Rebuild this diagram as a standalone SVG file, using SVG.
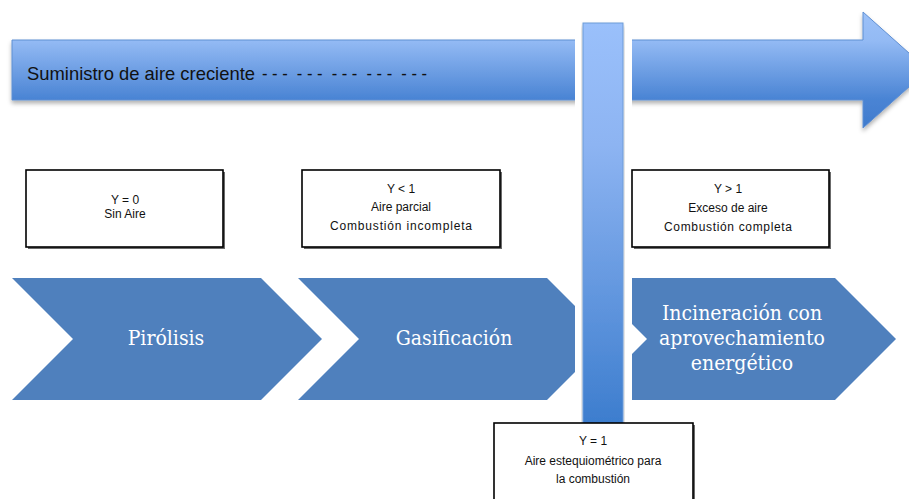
<svg xmlns="http://www.w3.org/2000/svg" width="909" height="499" viewBox="0 0 909 499">
  <style>
    .box { fill: #ffffff; stroke: #000000; stroke-width: 1.6; }
    .boxshadow { fill: #3a3a3a; opacity: 0.75; }
    .small { font-family: "Liberation Sans", Arial, sans-serif; font-size: 12px; fill: #111111; text-anchor: middle; }
    .chev { fill: #4f80bd; }
    .chevtext { font-family: "DejaVu Serif", "Liberation Serif", serif; font-stretch: condensed; font-size: 21px; fill: #ffffff; text-anchor: middle; }
    .title { font-family: "Liberation Sans", Arial, sans-serif; font-size: 19px; fill: #111111; }
  </style>
  <defs>
    <linearGradient id="headGrad" gradientUnits="userSpaceOnUse" x1="0" y1="12" x2="0" y2="128">
      <stop offset="0" stop-color="#9cc1f8"/>
      <stop offset="0.25" stop-color="#93baf4"/>
      <stop offset="0.75" stop-color="#4a84d4"/>
      <stop offset="1" stop-color="#3f7bcd"/>
    </linearGradient>
    <linearGradient id="barGrad" gradientUnits="userSpaceOnUse" x1="0" y1="23" x2="0" y2="430">
      <stop offset="0" stop-color="#9ac0fb"/>
      <stop offset="0.3" stop-color="#8db4f2"/>
      <stop offset="1" stop-color="#3b7ccd"/>
    </linearGradient>
    <filter id="softShadow" x="-5%" y="-20%" width="110%" height="150%">
      <feDropShadow dx="0" dy="3" stdDeviation="2" flood-color="#000000" flood-opacity="0.3"/>
    </filter>
    <clipPath id="gapClip">
      <rect x="0" y="0" width="575" height="499"/>
      <rect x="632" y="0" width="277" height="499"/>
    </clipPath>
  </defs>

  <!-- horizontal arrow, interrupted where the vertical bar passes -->
  <g id="supply-arrow">
    <path d="M12,40 H863 V12 L928,70 L863,128 V100 H12 Z" fill="url(#headGrad)" stroke="#5f8fd2" stroke-width="1" clip-path="url(#gapClip)" filter="url(#softShadow)"/>
    <text class="title" x="27" y="80" textLength="228" lengthAdjust="spacingAndGlyphs">Suministro de aire creciente</text>
    <text class="title" x="262" y="80" textLength="165" lengthAdjust="spacingAndGlyphs" xml:space="preserve">- - -  - - -  - - -  - - -  - - -</text>
  </g>

  <!-- process chevrons -->
  <g id="chevron-pirolisis">
    <path class="chev" d="M12,278 H261 L322,339 L261,400 H12 L73,339 Z"/>
    <text class="chevtext" x="166" y="345">Pirólisis</text>
  </g>
  <g id="chevron-gasificacion">
    <path class="chev" d="M298,278 H547 L608,339 L547,400 H298 L359,339 Z" clip-path="url(#gapClip)"/>
    <text class="chevtext" x="454" y="345">Gasificación</text>
  </g>
  <g id="chevron-incineracion">
    <path class="chev" d="M586,278 H835 L896,339 L835,400 H586 L647,339 Z" clip-path="url(#gapClip)"/>
    <text class="chevtext" x="742" y="320">Incineración con</text>
    <text class="chevtext" x="742" y="345">aprovechamiento</text>
    <text class="chevtext" x="742" y="370">energético</text>
  </g>

  <!-- stoichiometric divider -->
  <g id="stoich-bar">
    <rect x="583" y="23" width="40" height="410" fill="url(#barGrad)" stroke="#6d9bd8" stroke-width="1" filter="url(#softShadow)"/>
  </g>

  <!-- condition boxes -->
  <g id="box-sin-aire">
    <rect class="boxshadow" x="28" y="172" width="197" height="77"/>
    <rect class="box" x="26" y="170" width="197" height="77"/>
    <text class="small" x="125" y="204">Y = 0</text>
    <text class="small" x="125" y="218">Sin Aire</text>
  </g>
  <g id="box-aire-parcial">
    <rect class="boxshadow" x="304" y="172" width="198" height="77"/>
    <rect class="box" x="302" y="170" width="198" height="77"/>
    <text class="small" x="401" y="193">Y &lt; 1</text>
    <text class="small" x="401" y="211">Aire parcial</text>
    <text class="small" x="401" y="230" textLength="142" lengthAdjust="spacing">Combustión incompleta</text>
  </g>
  <g id="box-exceso">
    <rect class="boxshadow" x="634" y="172" width="197" height="77"/>
    <rect class="box" x="632" y="170" width="197" height="77"/>
    <text class="small" x="728" y="193">Y &gt; 1</text>
    <text class="small" x="728" y="212">Exceso de aire</text>
    <text class="small" x="728" y="231" textLength="128" lengthAdjust="spacing">Combustión completa</text>
  </g>
  <g id="box-estequiometrico">
    <rect class="boxshadow" x="496" y="425" width="199" height="80"/>
    <rect class="box" x="494" y="423" width="199" height="80"/>
    <text class="small" x="593" y="445">Y = 1</text>
    <text class="small" x="593" y="465">Aire estequiométrico para</text>
    <text class="small" x="593" y="483">la combustión</text>
  </g>
</svg>
